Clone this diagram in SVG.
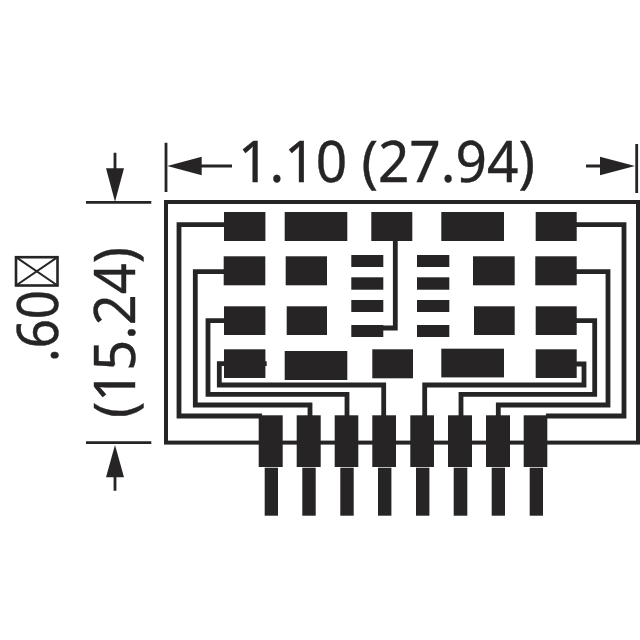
<svg xmlns="http://www.w3.org/2000/svg" width="640" height="640" viewBox="0 0 640 640">
<style>
.p{fill:#262425}
.t{fill:none;stroke:#262425;stroke-width:4.8;stroke-linejoin:miter}
.d{fill:none;stroke:#262425;stroke-width:2.8}
.a{fill:#262425}
text{font-family:"Noto Sans","Open Sans","Liberation Sans",sans-serif;font-size:57px;fill:#262425;stroke:#262425;stroke-width:.4}
</style>
<rect width="640" height="640" fill="#fff"/>
<rect id="board" x="166" y="202" width="472" height="240.6" fill="none" stroke="#262425" stroke-width="4"/>
<g id="connectors">
<path class="t" d="M224 224.7H179V416H262"/>
<path class="t" d="M224 271.7H195.3V405H310V416"/>
<path class="t" d="M224 320.7H208V394.3H347V416"/>
<path class="t" d="M266.7 363.7H219.3V385H383.7V416"/>
<path class="t" d="M576 224.7H624V416H546"/>
<path class="t" d="M576 271.7H608V405H498.3V416"/>
<path class="t" d="M576 320.7H594.7V394.3H461V416"/>
<path class="t" d="M576 364H584V385H424.7V416"/>
<path class="t" d="M395.3 240V328H383"/>
</g>
<g id="pads">
<g id="pad-r1-1"><rect class="p" x="224" y="212" width="41.4" height="29"/></g>
<g id="pad-r1-2"><rect class="p" x="284.7" y="212" width="62.6" height="29"/></g>
<g id="pad-r1-3"><rect class="p" x="371.3" y="212" width="41" height="29"/></g>
<g id="pad-r1-4"><rect class="p" x="441.3" y="212" width="62.7" height="29"/></g>
<g id="pad-r1-5"><rect class="p" x="535.7" y="212" width="41" height="29"/></g>
<g id="pad-r2-1"><rect class="p" x="223.7" y="256.3" width="41.6" height="29"/></g>
<g id="pad-r2-2"><rect class="p" x="285.7" y="256.3" width="41.3" height="29"/></g>
<g id="pad-r2-3"><rect class="p" x="473" y="256.3" width="41.7" height="29"/></g>
<g id="pad-r2-4"><rect class="p" x="535.3" y="256.3" width="41.4" height="29"/></g>
<g id="pad-r3-1"><rect class="p" x="224" y="306.3" width="41.4" height="28.7"/></g>
<g id="pad-r3-2"><rect class="p" x="286.7" y="306.3" width="40.3" height="28.7"/></g>
<g id="pad-r3-3"><rect class="p" x="474" y="306.3" width="40.7" height="28.7"/></g>
<g id="pad-r3-4"><rect class="p" x="535.7" y="306.3" width="41" height="28.7"/></g>
<g id="pad-r4-1"><rect class="p" x="224" y="349.3" width="41.4" height="28.7"/></g>
<g id="pad-r4-2"><rect class="p" x="284.7" y="351" width="62.6" height="29"/></g>
<g id="pad-r4-3"><rect class="p" x="372.3" y="349.3" width="40.7" height="29"/></g>
<g id="pad-r4-4"><rect class="p" x="441.3" y="348.7" width="62.7" height="28.7"/></g>
<g id="pad-r4-5"><rect class="p" x="535.7" y="349.3" width="41" height="28.7"/></g>
</g>
<g id="ic">
<g id="ic-l1"><rect class="p" x="351.3" y="255" width="32" height="12"/></g>
<g id="ic-l2"><rect class="p" x="351.3" y="277.3" width="32" height="12.4"/></g>
<g id="ic-l3"><rect class="p" x="351.3" y="300" width="32" height="12"/></g>
<g id="ic-l4"><rect class="p" x="351.3" y="325" width="32" height="12"/></g>
<g id="ic-r1"><rect class="p" x="417" y="255" width="32.3" height="12"/></g>
<g id="ic-r2"><rect class="p" x="417" y="277.3" width="32.3" height="12.4"/></g>
<g id="ic-r3"><rect class="p" x="417" y="300" width="32.3" height="12"/></g>
<g id="ic-r4"><rect class="p" x="417" y="325" width="32.3" height="12"/></g>
</g>
<g id="pins">
<g id="pin-1"><rect class="p" x="258.7" y="415.3" width="24" height="51.7"/><rect class="p" x="264.7" y="467.7" width="13.3" height="48"/></g>
<g id="pin-2"><rect class="p" x="296.7" y="415.3" width="24" height="51.7"/><rect class="p" x="302.3" y="467.7" width="13.4" height="48"/></g>
<g id="pin-3"><rect class="p" x="334.7" y="415.3" width="23.6" height="51.7"/><rect class="p" x="340.3" y="467.7" width="13.4" height="48"/></g>
<g id="pin-4"><rect class="p" x="372.3" y="415.3" width="23.7" height="51.7"/><rect class="p" x="378" y="467.7" width="13.4" height="48"/></g>
<g id="pin-5"><rect class="p" x="410.3" y="415.3" width="23.7" height="51.7"/><rect class="p" x="416" y="467.7" width="13.4" height="48"/></g>
<g id="pin-6"><rect class="p" x="448" y="415.3" width="24" height="51.7"/><rect class="p" x="453.7" y="467.7" width="13.6" height="48"/></g>
<g id="pin-7"><rect class="p" x="486" y="415.3" width="24" height="51.7"/><rect class="p" x="491.7" y="467.7" width="13.3" height="48"/></g>
<g id="pin-8"><rect class="p" x="523.7" y="415.3" width="23.6" height="51.7"/><rect class="p" x="529.7" y="467.7" width="13.3" height="48"/></g>
</g>
<g id="dim-width">
<path class="d" d="M166 142.7V192M636.7 144V193M201 166H232M586 166H601"/>
<polygon class="a" points="167.3,166 201.7,156.7 201.7,175.3"/>
<polygon class="a" points="635,166 600,156.7 600,175.3"/>
<text x="238" y="182" textLength="297" lengthAdjust="spacingAndGlyphs">1.10 (27.94)</text>
</g>
<g id="dim-height">
<path class="d" d="M86 202.3H151.3M86 442.7H151.3M115 152.7V169M115 476V490.7"/>
<polygon class="a" points="115,201.7 106,168.3 124,168.3"/>
<polygon class="a" points="115,445 106,477.3 124,477.3"/>
<text transform="translate(135,418) rotate(-90)" textLength="171" lengthAdjust="spacingAndGlyphs">(15.24)</text>
</g>
<g id="dim-label">
<text transform="translate(58.3,362) rotate(-90)" textLength="72" lengthAdjust="spacingAndGlyphs">.60</text>
<rect x="16" y="257.2" width="41.5" height="28.3" fill="none" stroke="#262425" stroke-width="2.6"/>
<path d="M16 257.2L57.5 285.5M16 285.5L57.5 257.2" fill="none" stroke="#262425" stroke-width="2"/>
</g>
</svg>
